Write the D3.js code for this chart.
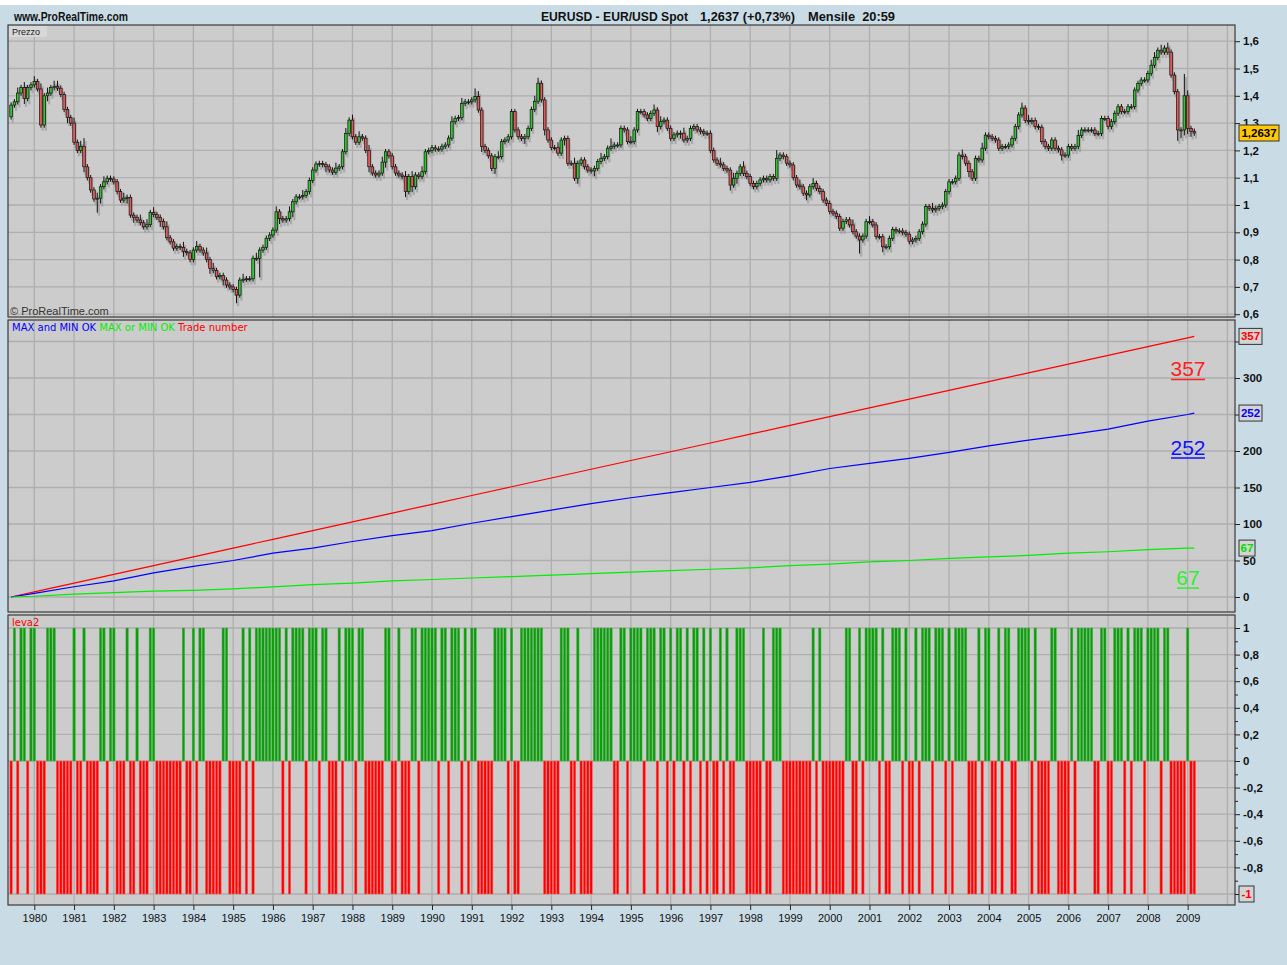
<!DOCTYPE html>
<html>
<head>
<meta charset="utf-8">
<script src="https://cdn.jsdelivr.net/npm/d3@7"></script>
<style>
  body { margin: 0; background: #c9dce6; }
  svg { display: block; }
</style>
</head>
<body>
<div id="chart"></div>
<script>
// EURUSD monthly, Jun 1979 -> Mar 2009, three panels (price, counters, leva2)

// ---- data ----
var firstOpen = 1.323;

// monthly closes, one row per year (1979 starts in June, 2009 ends in March)
var closes = [
  [1.366, 1.378, 1.410, 1.430, 1.390, 1.430, 1.440],
  [1.452, 1.425, 1.293, 1.400, 1.410, 1.430, 1.435, 1.428, 1.405, 1.350, 1.320, 1.300],
  [1.230, 1.200, 1.215, 1.140, 1.100, 1.055, 1.022, 1.025, 1.067, 1.085, 1.098, 1.095],
  [1.085, 1.049, 1.018, 1.025, 1.028, 0.963, 0.955, 0.945, 0.935, 0.920, 0.928, 0.972],
  [0.965, 0.955, 0.940, 0.920, 0.880, 0.865, 0.842, 0.848, 0.845, 0.830, 0.825, 0.800],
  [0.835, 0.848, 0.835, 0.824, 0.800, 0.768, 0.760, 0.737, 0.742, 0.725, 0.707, 0.700],
  [0.690, 0.670, 0.725, 0.728, 0.730, 0.730, 0.805, 0.805, 0.835, 0.845, 0.878, 0.890],
  [0.908, 0.975, 0.950, 0.945, 0.950, 0.975, 1.012, 1.030, 1.030, 1.035, 1.049, 1.090],
  [1.128, 1.150, 1.152, 1.148, 1.140, 1.128, 1.120, 1.135, 1.140, 1.195, 1.262, 1.311],
  [1.250, 1.230, 1.250, 1.245, 1.200, 1.140, 1.117, 1.110, 1.117, 1.157, 1.195, 1.180],
  [1.140, 1.117, 1.110, 1.104, 1.049, 1.104, 1.067, 1.110, 1.104, 1.122, 1.195, 1.200],
  [1.210, 1.205, 1.205, 1.215, 1.220, 1.245, 1.305, 1.317, 1.320, 1.372, 1.378, 1.378],
  [1.385, 1.397, 1.348, 1.214, 1.200, 1.180, 1.134, 1.177, 1.177, 1.232, 1.238, 1.250],
  [1.342, 1.275, 1.250, 1.244, 1.250, 1.281, 1.350, 1.380, 1.446, 1.385, 1.275, 1.238],
  [1.210, 1.210, 1.190, 1.238, 1.244, 1.153, 1.153, 1.098, 1.153, 1.165, 1.140, 1.128],
  [1.125, 1.134, 1.159, 1.171, 1.177, 1.208, 1.214, 1.220, 1.220, 1.281, 1.275, 1.232],
  [1.232, 1.275, 1.342, 1.342, 1.330, 1.317, 1.336, 1.348, 1.287, 1.305, 1.311, 1.281],
  [1.244, 1.257, 1.263, 1.263, 1.238, 1.244, 1.281, 1.287, 1.275, 1.269, 1.263, 1.263],
  [1.200, 1.165, 1.153, 1.147, 1.134, 1.128, 1.073, 1.098, 1.116, 1.140, 1.116, 1.104],
  [1.079, 1.067, 1.079, 1.092, 1.098, 1.092, 1.104, 1.098, 1.171, 1.183, 1.177, 1.153],
  [1.147, 1.100, 1.073, 1.067, 1.043, 1.037, 1.067, 1.079, 1.061, 1.049, 1.018, 1.006],
  [0.976, 0.970, 0.958, 0.915, 0.940, 0.946, 0.927, 0.902, 0.886, 0.872, 0.886, 0.939],
  [0.939, 0.927, 0.884, 0.884, 0.847, 0.847, 0.878, 0.910, 0.905, 0.905, 0.899, 0.893],
  [0.866, 0.872, 0.878, 0.902, 0.930, 0.994, 0.988, 0.982, 0.988, 0.994, 1.000, 1.049],
  [1.085, 1.085, 1.098, 1.183, 1.177, 1.153, 1.122, 1.098, 1.171, 1.165, 1.208, 1.256],
  [1.250, 1.244, 1.238, 1.208, 1.214, 1.214, 1.220, 1.244, 1.287, 1.330, 1.355, 1.310],
  [1.305, 1.310, 1.287, 1.285, 1.232, 1.214, 1.208, 1.238, 1.208, 1.202, 1.183, 1.183],
  [1.214, 1.208, 1.214, 1.255, 1.275, 1.275, 1.275, 1.275, 1.262, 1.262, 1.317, 1.317],
  [1.287, 1.305, 1.336, 1.360, 1.342, 1.342, 1.360, 1.360, 1.421, 1.445, 1.458, 1.458],
  [1.482, 1.512, 1.540, 1.567, 1.560, 1.575, 1.560, 1.476, 1.415, 1.275, 1.275, 1.400],
  [1.280, 1.270, 1.2637]
];

// wick lengths above / below the body, in hundredths
var wickUp = [
  "1121211", "212121221111", "212311121211", "111211112121", "211121111211",
  "121121211111", "111211121111", "121112111211", "111111121121", "212112111211",
  "111121211211", "111111211211", "132111112111", "111111122111", "112111121111",
  "111211311111", "211111121211", "111121111111", "111211121121", "111111113111",
  "111211121111", "111111121111", "211111111111", "111111121111", "111121111121",
  "111111111121", "211111111111", "111211111111", "111111111111", "122121211118",
  "211"
];
var wickDn = [
  "1111211", "111121111121", "111211152111", "111121211111", "112111111211",
  "111112111211", "131111117111", "112111211111", "111121111111", "111112111121",
  "111121211111", "111111111111", "111211121111", "111121111121", "111121112111",
  "121111111111", "111111112111", "111211111111", "111111212111", "111111111111",
  "111112111111", "111111111511", "111121111111", "111111111111", "111111211111",
  "111111111111", "111111111121", "111111111111", "111111111111", "111111111432",
  "221"
];

// leva2: + is +1, - is -1, one char per month
var leva2 = [
  "-+-++-+",
  "+---+++-----", "+--+----++-+", "+---+--+---+", "+--------+--", "+-++-----++-",
  "---+-+-+++++", "+++-+-++++-+", "++-++---+-++", "+-++------++", "--+---++-+++",
  "++-++-+++-+-", "++-----++++-", "+--+++++++--", "---+++--+---", "-++++++--++-",
  "++++-+++-++-", "+-++-+-++-+-", "+--+-+--+++-", "----+--+++--", "-------+-+--",
  "-----++--+-+", "+++-+--+++-+", "--+-+++-+++-", "+-++++---+-+", "+--+-++--+++",
  "+-+----++---", "-+-+++++--++", "--+++-+-+++-", "++++-++-----",
  "+--"
];

// counter lines, read at each January
var lineMonths = ["1979-06", "1980-01", "1981-01", "1982-01", "1983-01", "1984-01", "1985-01",
  "1986-01", "1987-01", "1988-01", "1989-01", "1990-01", "1991-01", "1992-01", "1993-01",
  "1994-01", "1995-01", "1996-01", "1997-01", "1998-01", "1999-01", "2000-01", "2001-01",
  "2002-01", "2003-01", "2004-01", "2005-01", "2006-01", "2007-01", "2008-01", "2009-01", "2009-03"];
var maxAndMin = [0, 5, 14, 22, 33, 42, 50, 60, 67, 76, 84, 91, 101, 110, 119, 128, 136, 143,
  150, 157, 166, 176, 183, 190, 198, 207, 215, 222, 230, 241, 250, 252];
var maxOrMin = [0, 1, 4, 6, 8, 9, 11, 14, 17, 19, 22, 24, 26, 28, 30, 32, 34, 36, 38, 40, 43,
  45, 48, 50, 53, 55, 57, 60, 62, 65, 67, 67];
var tradeNumber = [0, 7, 19, 31, 43, 55, 67, 79, 91, 103, 115, 127, 139, 151, 163, 175, 187,
  199, 211, 223, 235, 247, 259, 271, 283, 295, 307, 319, 331, 343, 355, 357];

var yearLabels = d3.range(1980, 2010);
var priceTicks = [0.6, 0.7, 0.8, 0.9, 1.0, 1.1, 1.2, 1.3, 1.4, 1.5, 1.6];
var lineTicks = [0, 50, 100, 150, 200, 250, 300, 350];
var levaTicks = [-1, -0.8, -0.6, -0.4, -0.2, 0, 0.2, 0.4, 0.6, 0.8, 1];
var lastPrice = 1.2637;

// ---- build ----
var W = 1287, H = 965;
var plotL = 8, plotR = 1235;
var pTop = 25, pBot = 317, lTop = 320, lBot = 612, vTop = 615, vBot = 905;

function monthIndex(s) {
  var p = s.split("-").map(Number);
  return (p[0] - 1979) * 12 + (p[1] - 6);
}
function comma(v) { return String(Math.round(v * 10) / 10).replace(".", ","); }

var closeAll = d3.merge(closes);
var upAll = d3.merge(wickUp.map(function(s) { return s.split("").map(Number); }));
var dnAll = d3.merge(wickDn.map(function(s) { return s.split("").map(Number); }));
var levaAll = d3.merge(leva2.map(function(s) { return s.split("").map(function(c) { return c === "+" ? 1 : -1; }); }));

var candles = closeAll.map(function(c, i) {
  var o = i === 0 ? firstOpen : closeAll[i - 1];
  return { i: i, o: o, c: c,
    hi: Math.max(o, c) + upAll[i] / 100,
    lo: Math.min(o, c) - dnAll[i] / 100 };
});

var x = d3.scaleLinear().domain([0, 357]).range([11.1, 1194.3]);
var yP = d3.scaleLinear().domain([0.6, 1.6]).range([314.2, 41.2]);
var yL = d3.scaleLinear().domain([0, 300]).range([597, 378]);
var yV = d3.scaleLinear().domain([-1, 1]).range([894, 628]);

var svg = d3.select("#chart").append("svg")
  .attr("width", W).attr("height", H);

svg.append("rect").attr("width", W).attr("height", H).attr("fill", "#c9dce6");
svg.append("rect").attr("width", W).attr("height", 5).attr("fill", "#ffffff");

// header, squeezed to the narrow look of the original
var head = [
  { x: 14, w: 114, t: "www.ProRealTime.com" },
  { x: 541, w: 147, t: "EURUSD - EUR/USD Spot" },
  { x: 700, w: 95, t: "1,2637 (+0,73%)" },
  { x: 808, w: 87, t: "Mensile  20:59" }
];
svg.selectAll("text.head").data(head).enter().append("text")
  .attr("class", "head")
  .attr("x", function(d) { return d.x; }).attr("y", 21)
  .attr("font-family", "Liberation Sans, Arial, sans-serif")
  .attr("font-weight", "bold").attr("font-size", 13).attr("fill", "#111")
  .attr("textLength", function(d) { return d.w; })
  .attr("lengthAdjust", "spacingAndGlyphs")
  .attr("xml:space", "preserve")
  .text(function(d) { return d.t; });

// panel backgrounds
svg.append("rect").attr("x", plotL).attr("y", pTop)
  .attr("width", plotR - plotL).attr("height", vBot - pTop).attr("fill", "#cccccc");

var panels = [[pTop, pBot], [lTop, lBot], [vTop, vBot]];
var yearIdx = d3.range(1980, 2011).map(function(y) { return monthIndex(y + "-01"); });

// grids
panels.forEach(function(p) {
  svg.append("g").selectAll("line").data(yearIdx).enter().append("line")
    .attr("x1", function(d) { return x(d); }).attr("x2", function(d) { return x(d); })
    .attr("y1", p[0]).attr("y2", p[1])
    .attr("stroke", "#aeaeae").attr("stroke-width", 1.3);
});
function hgrid(ticks, scale) {
  svg.append("g").selectAll("line").data(ticks).enter().append("line")
    .attr("x1", plotL).attr("x2", plotR)
    .attr("y1", function(d) { return scale(d); }).attr("y2", function(d) { return scale(d); })
    .attr("stroke", "#aeaeae").attr("stroke-width", 1.3);
}
hgrid(priceTicks, yP);
hgrid(lineTicks, yL);
hgrid(levaTicks, yV);

// ---- price panel ----
var shadow = svg.append("g").attr("fill", "#8f8f8f").attr("opacity", 0.55);
shadow.selectAll("rect").data(candles).enter().append("rect")
  .attr("x", function(d) { return x(d.i) + 0.5; })
  .attr("y", function(d) { return yP(d.hi) + 3; })
  .attr("width", 2.2)
  .attr("height", function(d) { return yP(d.lo) - yP(d.hi); });

var cg = svg.append("g");
cg.selectAll("line").data(candles).enter().append("line")
  .attr("x1", function(d) { return x(d.i); }).attr("x2", function(d) { return x(d.i); })
  .attr("y1", function(d) { return yP(d.hi); }).attr("y2", function(d) { return yP(d.lo); })
  .attr("stroke", "#111").attr("stroke-width", 1);
cg.selectAll("rect").data(candles).enter().append("rect")
  .attr("x", function(d) { return x(d.i) - 1.3; })
  .attr("y", function(d) { return yP(Math.max(d.o, d.c)); })
  .attr("width", 2.6)
  .attr("height", function(d) { return Math.max(1, Math.abs(yP(d.o) - yP(d.c))); })
  .attr("fill", function(d) { return d.c >= d.o ? "#33c433" : "#e05a5a"; })
  .attr("stroke", "#111").attr("stroke-width", 0.7);

svg.append("rect").attr("x", 9).attr("y", 26).attr("width", 38).attr("height", 11)
  .attr("fill", "#d8d8d8");
svg.append("text").attr("x", 12).attr("y", 35)
  .attr("font-family", "Liberation Sans, Arial, sans-serif").attr("font-size", 9).attr("fill", "#222")
  .text("Prezzo");
svg.append("text").attr("x", 10).attr("y", 315)
  .attr("font-family", "Liberation Sans, Arial, sans-serif").attr("font-size", 11).attr("fill", "#333")
  .text("© ProRealTime.com");

// ---- counters panel ----
var lineData = lineMonths.map(function(m, k) {
  return { i: monthIndex(m), a: maxAndMin[k], b: maxOrMin[k], t: tradeNumber[k] };
});
var series = [
  { key: "t", color: "#ff0000" },
  { key: "a", color: "#0000ff" },
  { key: "b", color: "#00ee00" }
];
series.forEach(function(s) {
  var line = d3.line()
    .x(function(d) { return x(d.i); })
    .y(function(d) { return yL(d[s.key]); });
  svg.append("path").datum(lineData)
    .attr("d", line).attr("fill", "none")
    .attr("stroke", s.color).attr("stroke-width", 1.2);
});

var legend = svg.append("text").attr("x", 12).attr("y", 331)
  .attr("font-family", "DejaVu Sans, Verdana, sans-serif").attr("font-size", 10);
legend.append("tspan").attr("fill", "#0000ff").text("MAX and MIN OK ");
legend.append("tspan").attr("fill", "#00ee00").text("MAX or MIN OK ");
legend.append("tspan").attr("fill", "#ff0000").text("Trade number");

var last = lineData[lineData.length - 1];
var bigLabels = [
  { v: last.t, color: "#ff2020", dy: 40, w: 34 },
  { v: last.a, color: "#1010ff", dy: 42, w: 34 },
  { v: last.b, color: "#30ee30", dy: 37, w: 22 }
];
bigLabels.forEach(function(b) {
  var yy = yL(b.v) + b.dy;
  svg.append("text").attr("x", 1188).attr("y", yy)
    .attr("text-anchor", "middle")
    .attr("font-family", "Liberation Sans, Arial, sans-serif").attr("font-size", 21)
    .attr("fill", b.color).text(b.v);
  svg.append("line").attr("x1", 1188 - b.w / 2).attr("x2", 1188 + b.w / 2)
    .attr("y1", yy + 3).attr("y2", yy + 3)
    .attr("stroke", b.color).attr("stroke-width", 1.5);
});

// ---- leva2 panel ----
svg.append("g").selectAll("rect").data(levaAll).enter().append("rect")
  .attr("x", function(d, i) { return x(i) - 1.2; })
  .attr("y", function(d) { return Math.min(yV(0), yV(d)); })
  .attr("width", 2.4)
  .attr("height", function(d) { return Math.abs(yV(d) - yV(0)); })
  .attr("fill", function(d) { return d > 0 ? "#109a10" : "#ff0000"; })
  .attr("stroke", function(d) { return d > 0 ? "#45b845" : "#ff5a5a"; })
  .attr("stroke-width", 0.5);

svg.append("text").attr("x", 12).attr("y", 626)
  .attr("font-family", "DejaVu Sans, Verdana, sans-serif").attr("font-size", 10)
  .attr("fill", "#ff0000").text("leva2");

// ---- panel borders ----
panels.forEach(function(p) {
  svg.append("rect").attr("x", plotL).attr("y", p[0])
    .attr("width", plotR - plotL).attr("height", p[1] - p[0])
    .attr("fill", "none").attr("stroke", "#3a3a3a").attr("stroke-width", 1.2);
});

// ---- axes ----
function styleAxis(g) {
  g.select(".domain").remove();
  g.selectAll(".tick line").attr("stroke", "#222");
  g.selectAll(".tick text").attr("fill", "#111")
    .attr("font-family", "Liberation Sans, Arial, sans-serif")
    .attr("font-weight", "bold").attr("font-size", 11.5);
}
svg.append("g").attr("transform", "translate(" + plotR + ",0)")
  .call(d3.axisRight(yP).tickValues(priceTicks).tickFormat(comma).tickSize(5).tickPadding(3))
  .call(styleAxis);
// 250 and 350 sit under the value boxes, so their labels stay empty
svg.append("g").attr("transform", "translate(" + plotR + ",0)")
  .call(d3.axisRight(yL).tickValues(lineTicks)
    .tickFormat(function(d) { return d === 250 || d === 350 ? "" : d; })
    .tickSize(5).tickPadding(3))
  .call(styleAxis);
svg.append("g").attr("transform", "translate(" + plotR + ",0)")
  .call(d3.axisRight(yV).tickValues(d3.range(-10, 11).map(function(k) { return k / 10; }))
    .tickFormat(function(d) {
      var k = Math.round(d * 10);
      return (k % 2 === 0 && k !== -10) ? comma(d) : "";
    })
    .tickSize(5).tickPadding(3))
  .call(styleAxis)
  .selectAll(".tick line").attr("x2", function(d) { return Math.round(d * 10) % 2 === 0 ? 5 : 3; });

var xa = svg.append("g").attr("transform", "translate(0," + vBot + ")")
  .call(d3.axisBottom(x).tickValues(yearLabels.map(function(y) { return monthIndex(y + "-01"); }))
    .tickFormat(function(d, k) { return yearLabels[k]; }).tickSize(5).tickPadding(4));
xa.select(".domain").remove();
xa.selectAll(".tick line").attr("stroke", "#222");
xa.selectAll(".tick text").attr("fill", "#111")
  .attr("font-family", "Liberation Sans, Arial, sans-serif").attr("font-size", 11);

// ---- value boxes ----
var boxes = [
  { y: yP(lastPrice), t: "1,2637", w: 40, fill: "#ffc800", color: "#000" },
  { y: yL(last.t), t: String(last.t), w: 23, fill: "#d4d4d4", color: "#ff0000" },
  { y: yL(last.a), t: String(last.a), w: 23, fill: "#d4d4d4", color: "#0000ff" },
  { y: yL(last.b), t: String(last.b), w: 16, fill: "#d4d4d4", color: "#00dd00" },
  { y: yV(-1), t: "-1", w: 15, fill: "#d4d4d4", color: "#ff0000" }
];
var bg = svg.append("g").selectAll("g").data(boxes).enter().append("g");
bg.append("rect")
  .attr("x", 1239).attr("y", function(d) { return d.y - 8; })
  .attr("width", function(d) { return d.w; }).attr("height", 16)
  .attr("fill", function(d) { return d.fill; })
  .attr("stroke", "#333").attr("stroke-width", 1);
bg.append("text")
  .attr("x", function(d) { return 1239 + d.w / 2; }).attr("y", function(d) { return d.y + 4; })
  .attr("text-anchor", "middle")
  .attr("font-family", "Liberation Sans, Arial, sans-serif").attr("font-weight", "bold")
  .attr("font-size", 11.5).attr("fill", function(d) { return d.color; })
  .text(function(d) { return d.t; });
</script>
</body>
</html>
